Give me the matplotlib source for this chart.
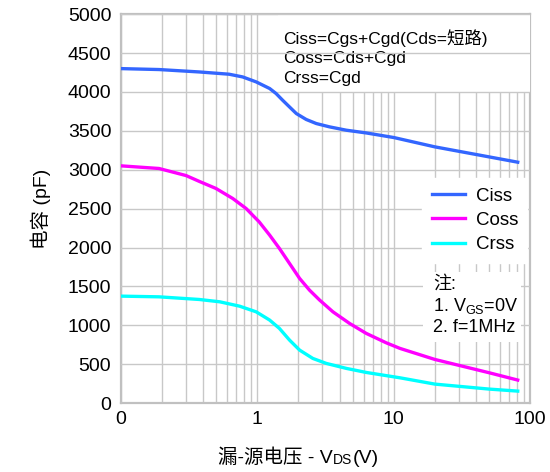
import numpy as np
import matplotlib
matplotlib.use("Agg")
import matplotlib.pyplot as plt
import matplotlib.ticker as ticker
from matplotlib.patches import Rectangle

plt.rcParams['font.family'] = ['Liberation Sans', 'Noto Sans CJK SC', 'DejaVu Sans']
plt.rcParams['mathtext.fontset'] = 'custom'
plt.rcParams['mathtext.rm'] = 'Liberation Sans'

# Data (VDS in V, capacitance in pF)
v_ciss = [0.1, 0.19, 0.375, 0.62, 0.78, 0.98, 1.23, 1.37, 1.53, 1.72, 1.93, 2.28, 2.70, 3.38, 4.49, 6.28, 10, 20, 50, 81]
ciss = [4300, 4288, 4257, 4228, 4193, 4129, 4044, 3980, 3894, 3807, 3722, 3646, 3594, 3551, 3508, 3473, 3414, 3294, 3165, 3097]

v_coss = [0.1, 0.19, 0.30, 0.375, 0.497, 0.66, 0.826, 1.03, 1.23, 1.45, 1.72, 2.04, 2.41, 2.86, 3.58, 4.74, 6.28, 8.8, 11.1, 20, 50, 81]
coss = [3050, 3016, 2925, 2850, 2759, 2630, 2502, 2330, 2159, 1988, 1795, 1602, 1452, 1324, 1173, 1024, 896, 775, 703, 561, 390, 296]

v_crss = [0.1, 0.19, 0.375, 0.53, 0.74, 0.98, 1.23, 1.45, 1.72, 2.04, 2.55, 3.2, 4.49, 6.28, 11.1, 20, 50, 81]
crss = [1375, 1366, 1332, 1302, 1246, 1173, 1067, 960, 810, 681, 574, 510, 446, 394, 325, 244, 180, 154]

xticks = [0.1, 1, 10, 100]
xticklabels = ["0", "1", "10", "100"]
yticks = np.arange(0, 5001, 500)

fig = plt.figure(figsize=(5.5, 4.72), dpi=100)
ax = fig.add_axes([0.22, 0.146, 0.744, 0.824])

ax.plot(v_ciss, ciss, color="#3366ff", lw=2.4, label="Ciss", zorder=4)
ax.plot(v_coss, coss, color="#ff00ff", lw=2.4, label="Coss", zorder=4)
ax.plot(v_crss, crss, color="#00ffff", lw=2.4, label="Crss", zorder=4)

ax.set_xscale("log")
ax.set_xlim(0.1, 100)
ax.set_ylim(0, 5000)
ax.xaxis.set_major_locator(ticker.FixedLocator(xticks))
ax.xaxis.set_major_formatter(ticker.FixedFormatter(xticklabels))
ax.xaxis.set_minor_locator(ticker.LogLocator(base=10, subs=np.arange(2, 10)))
ax.xaxis.set_minor_formatter(ticker.NullFormatter())
ax.set_yticks(yticks)
ax.tick_params(which="both", length=0, labelsize=14, colors="black")
ax.tick_params(axis="y", pad=7)
ax.tick_params(axis="x", pad=6)

ax.grid(True, which="both", axis="x", color="#c8c8c8", lw=1)
ax.grid(True, which="major", axis="y", color="#c8c8c8", lw=1)
ax.set_axisbelow(True)
# horizontal grid sits above the top text box, as in the reference
ax.yaxis.set_zorder(3.5)

for s in ax.spines.values():
    s.set_color("#c0c0c0")
    s.set_linewidth(1.6)

ax.set_ylabel("电容 (pF)", fontsize=14, labelpad=12)

# x label built from pieces so the CJK text and the subscript both render
t1 = fig.text(0.397, 0.02, "漏-源电压 - V", fontsize=14, ha="left", va="baseline")
t2 = ax.annotate("DS", xy=(1, 0), xycoords=t1, xytext=(0, 0), textcoords="offset points",
                 fontsize=10, ha="left", va="bottom", annotation_clip=False)
ax.annotate("(V)", xy=(1, 0), xycoords=t2, xytext=(0, 0), textcoords="offset points",
            fontsize=14, ha="left", va="bottom", annotation_clip=False)

# formula box at the top
ax.add_patch(Rectangle((0.384, 0.8), 0.616, 0.2, transform=ax.transAxes,
                       facecolor="white", edgecolor="none", zorder=3))
ax.text(0.396, 0.962, "Ciss=Cgs+Cgd(Cds=短路)\nCoss=Cds+Cgd\nCrss=Cgd",
        transform=ax.transAxes, fontsize=12.5, va="top", ha="left",
        linespacing=1.4, zorder=3.1)

leg = ax.legend(loc="upper left", bbox_to_anchor=(0.736, 0.578), borderaxespad=0,
                fontsize=13.5, handlelength=1.8, handletextpad=0.55, labelspacing=0.38,
                frameon=True, fancybox=False, framealpha=1, edgecolor="white", borderpad=0.5)
leg.set_zorder(5)

ax.add_patch(Rectangle((0.738, 0.157), 0.24, 0.18, transform=ax.transAxes,
                       facecolor="white", edgecolor="none", zorder=5))
ax.text(0.762, 0.327, "注:\n1. V$\\mathregular{_{GS}}$=0V\n2. f=1MHz",
        transform=ax.transAxes, fontsize=13, va="top", ha="left",
        linespacing=1.2, zorder=5.1)

fig.savefig("out.png", dpi=100)
